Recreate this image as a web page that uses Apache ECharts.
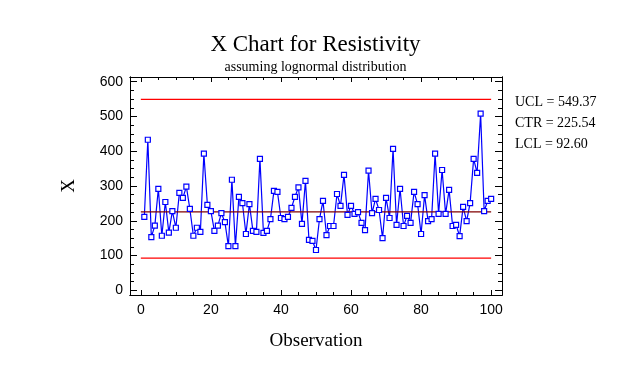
<!DOCTYPE html>
<html><head><meta charset="utf-8">
<script src="https://cdn.jsdelivr.net/npm/echarts@6/dist/echarts.min.js"></script>
<style>html,body{margin:0;padding:0;background:#fff}#c{width:631px;height:373px}</style>
</head><body><div id="c"></div>
<script>
const observations = Array.from({length:100},(_,i)=>i+1);
const values = [211,433,153,186,292,157,254,166,228,180,
280,266,298,234,157,180,168,393,246,228,
171,186,222,196,127,318,127,269,251,162,
248,171,168,378,165,171,205,286,283,208,
205,211,237,269,296,191,315,145,142,116,
205,257,159,185,185,277,243,332,217,243,
220,225,194,173,344,222,263,231,150,266,
208,407,188,292,185,214,194,283,248,162,
274,199,205,393,220,346,220,289,185,188,
156,240,199,251,378,338,508,228,257,263];
const UCL = 549.37, CTR = 225.54, LCL = 92.60;
const limitRange = [0, 100];
const xMajorTicks = [0,20,40,60,80,100];
const xMinorTicks = [5,10,15,25,30,35,45,50,55,65,70,75,85,90,95];
const yMajorTicks = [0,100,200,300,400,500,600];
const yMinorTicks = [25,50,75,125,150,175,225,250,275,325,350,375,425,450,475,525,550,575];
const legendLines = ['UCL = 549.37','CTR = 225.54','LCL = 92.60'];

const serif = '"Liberation Serif","Times New Roman",serif';
const sans = '"Liberation Sans",Arial,sans-serif';
const X_MIN = -3.09, X_MAX = 103.1, Y_MIN = -13.4, Y_MAX = 613.5;

function xAx(pos, ticks, len, labels, name){
  return {type:'value', position:pos, min:X_MIN, max:X_MAX,
    axisLine:{show:true, onZero:false, lineStyle:{color:'#000',width:1}},
    axisTick:{show:true, inside:true, length:len, customValues:ticks, lineStyle:{color:'#000'}},
    axisLabel:{show:labels, customValues:ticks, margin:8, color:'#000', fontFamily:sans, fontSize:14},
    splitLine:{show:false},
    name:name||'', nameLocation:'middle', nameGap:37,
    nameTextStyle:{fontFamily:serif, fontSize:19, color:'#000'}};
}
function yAx(pos, ticks, len, labels, name){
  return {type:'value', position:pos, min:Y_MIN, max:Y_MAX,
    axisLine:{show:true, onZero:false, lineStyle:{color:'#000',width:1}},
    axisTick:{show:true, inside:true, length:len, customValues:ticks, lineStyle:{color:'#000'}},
    axisLabel:{show:labels, customValues:ticks, margin:7, color:'#000', fontFamily:sans, fontSize:14},
    splitLine:{show:false},
    name:name||'', nameLocation:'middle', nameGap:51, nameRotate:90,
    nameTextStyle:{fontFamily:serif, fontSize:19, color:'#000'}};
}

const chart = echarts.init(document.getElementById('c'), null, {renderer:'canvas'});
chart.setOption({
  animation:false,
  backgroundColor:'#fff',
  title:[
    {text:'X Chart for Resistivity', left:'center', top:28,
      textStyle:{fontFamily:serif, fontSize:23, fontWeight:'normal', color:'#000'}},
    {text:'assuming lognormal distribution', left:'center', top:55,
      textStyle:{fontFamily:serif, fontSize:14, fontWeight:'normal', color:'#000'}}
  ],
  grid:{left:130, right:129, top:77, bottom:78, show:false},
  xAxis:[xAx('bottom',xMajorTicks,5,true,'Observation'), xAx('bottom',xMinorTicks,3,false),
         xAx('top',xMajorTicks,5,false), xAx('top',xMinorTicks,3,false)],
  yAxis:[yAx('left',yMajorTicks,7,true,'X'), yAx('left',yMinorTicks,4,false),
         yAx('right',yMajorTicks,7,false), yAx('right',yMinorTicks,4,false)],
  graphic: legendLines.map((t,i)=>({type:'text', left:515, top:95+i*21,
    style:{text:t, fontFamily:serif, fontSize:14, fill:'#000'}})),
  series:[
    {type:'line', name:'X', data:observations.map((o,i)=>[o,values[i]]), showSymbol:false,
      lineStyle:{color:'#0000ff', width:1.2}, z:2, silent:true},
    {type:'line', data:limitRange.map(x=>[x,UCL]), showSymbol:false, lineStyle:{color:'#ff0000',width:1.2}, z:3, silent:true},
    {type:'line', data:limitRange.map(x=>[x,CTR]), showSymbol:false, lineStyle:{color:'#800000',width:1.3}, z:3, silent:true},
    {type:'line', data:limitRange.map(x=>[x,LCL]), showSymbol:false, lineStyle:{color:'#ff0000',width:1.2}, z:3, silent:true},
    {type:'scatter', data:observations.map((o,i)=>[o,values[i]]), symbol:'rect', symbolSize:5,
      itemStyle:{color:'#ffffff', borderColor:'#0000ff', borderWidth:1.2, opacity:1}, z:4, silent:true}
  ]
});
</script></body></html>
